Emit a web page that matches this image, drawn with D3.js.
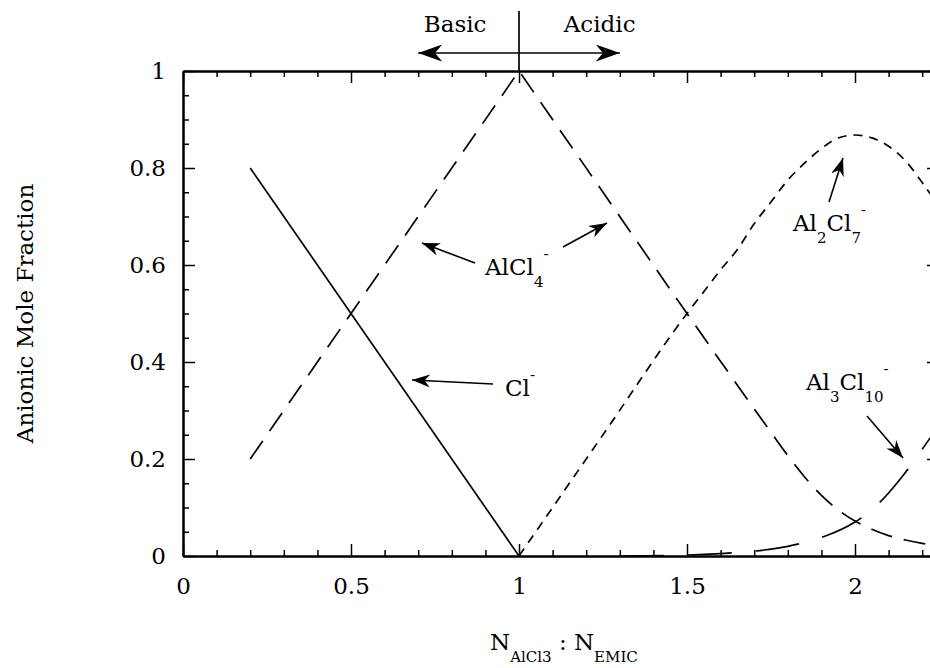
<!DOCTYPE html>
<html>
<head>
<meta charset="utf-8">
<script src="https://cdn.jsdelivr.net/npm/d3@7"></script>
<style>
  body { margin: 0; background: #fff; }
  svg { display: block; }
  text { font-family: "DejaVu Serif", serif; fill: #000; }
</style>
</head>
<body>
<svg id="canvas" width="930" height="668"></svg>
<script>
window.addEventListener('DOMContentLoaded', () => {

// values
const clX = [0.2, 1.0]
const clY = [0.8, 0.0]

const alcl4UpX = [0.2, 1.0]
const alcl4UpY = [0.2, 1.0]
const alcl4DownX = [1.0, 1.25, 1.5, 1.75, 1.8, 1.85, 1.9, 1.95, 2.0, 2.05, 2.1, 2.15, 2.2, 2.25]
const alcl4DownY = [1.0, 0.75, 0.5, 0.255, 0.207, 0.163, 0.125, 0.095, 0.072, 0.055, 0.042, 0.033, 0.026, 0.021]

const al2cl7X = [1.0, 1.25, 1.5, 1.55, 1.6, 1.65, 1.7, 1.75, 1.8, 1.85, 1.9, 1.95, 2.0, 2.05, 2.1, 2.15, 2.2, 2.25]
const al2cl7Y = [0.0, 0.25, 0.5, 0.545, 0.59, 0.632, 0.685, 0.73, 0.775, 0.81, 0.84, 0.862, 0.868, 0.862, 0.845, 0.815, 0.77, 0.72]

const al3cl10X = [1.3, 1.5, 1.6, 1.7, 1.8, 1.9, 2.0, 2.05, 2.1, 2.15, 2.2, 2.25]
const al3cl10Y = [0.0, 0.002, 0.005, 0.01, 0.02, 0.038, 0.07, 0.095, 0.13, 0.172, 0.22, 0.27]

const xMajor = [0, 0.5, 1, 1.5, 2]
const yMajor = [0, 0.2, 0.4, 0.6, 0.8, 1]

const FS = 23
const FS_SMALL = 15

let svg = d3.select('#canvas')

let x = d3.scaleLinear().domain([0, 2.25]).range([183, 939])
let y = d3.scaleLinear().domain([0, 1]).range([556, 71])

let xMinor = d3.range(0, 2.26, 0.1).map(v => +v.toFixed(2)).filter(v => !xMajor.includes(v))
let yMinor = d3.range(0, 1.001, 0.05).map(v => +v.toFixed(2)).filter(v => !yMajor.includes(v))

let defs = svg.append('defs')
let addArrow = (id, len, wid) => {
  defs.append('marker')
    .attr('id', id)
    .attr('markerUnits', 'userSpaceOnUse')
    .attr('viewBox', `${-len} ${-wid / 2} ${len} ${wid}`)
    .attr('refX', 0).attr('refY', 0)
    .attr('markerWidth', len).attr('markerHeight', wid)
    .attr('orient', 'auto-start-reverse')
    .append('path')
    .attr('d', `M0,0 L${-len},${-wid / 2} L${-len * 0.7},0 L${-len},${wid / 2} Z`)
    .attr('fill', '#000')
}
addArrow('bigArrow', 24, 17)
addArrow('arrow', 18, 13)

// axes, ticks pointing inward
let axisG = svg.append('g').attr('class', 'axes')
let fmt = d => d === 0 ? '0' : d3.format('~g')(d)

axisG.append('g').attr('transform', `translate(0,${y(0)})`)
  .call(d3.axisBottom(x).tickValues(xMajor).tickFormat(fmt).tickSize(-12).tickSizeOuter(0).tickPadding(22))
axisG.append('g').attr('transform', `translate(0,${y(0)})`)
  .call(d3.axisBottom(x).tickValues(xMinor).tickFormat('').tickSize(-6).tickSizeOuter(0))
axisG.append('g').attr('transform', `translate(0,${y(1)})`)
  .call(d3.axisTop(x).tickValues(xMajor).tickFormat('').tickSize(-12).tickSizeOuter(0))
axisG.append('g').attr('transform', `translate(0,${y(1)})`)
  .call(d3.axisTop(x).tickValues(xMinor).tickFormat('').tickSize(-6).tickSizeOuter(0))

axisG.append('g').attr('transform', `translate(${x(0)},0)`)
  .call(d3.axisLeft(y).tickValues(yMajor).tickFormat(fmt).tickSize(-12).tickSizeOuter(0).tickPadding(17))
axisG.append('g').attr('transform', `translate(${x(0)},0)`)
  .call(d3.axisLeft(y).tickValues(yMinor).tickFormat('').tickSize(-6).tickSizeOuter(0))
axisG.append('g').attr('transform', `translate(${x(2.25)},0)`)
  .call(d3.axisRight(y).tickValues(yMajor).tickFormat('').tickSize(-12).tickSizeOuter(0))
axisG.append('g').attr('transform', `translate(${x(2.25)},0)`)
  .call(d3.axisRight(y).tickValues(yMinor).tickFormat('').tickSize(-6).tickSizeOuter(0))

axisG.selectAll('path.domain').attr('stroke', '#000').attr('stroke-width', 2)
axisG.selectAll('.tick line').attr('stroke', '#000').attr('stroke-width', 1.5)
axisG.selectAll('.tick text')
  .attr('font-family', '"DejaVu Serif", serif')
  .attr('font-size', FS)
  .attr('fill', '#000')

// curves
let pts = (xs, ys) => xs.map((v, i) => [v, ys[i]])
let lineLin = d3.line().x(d => x(d[0])).y(d => y(d[1]))
let lineSmooth = d3.line().x(d => x(d[0])).y(d => y(d[1])).curve(d3.curveMonotoneX)

// AlCl4- : straight rise, smooth fall, joined into one path so the dashes run on
let alcl4Path = lineLin(pts(alcl4UpX, alcl4UpY)) +
  lineSmooth(pts(alcl4DownX, alcl4DownY)).replace(/^M[^A-Za-z]*/, '')

let series = [
  { d: lineLin(pts(clX, clY)), dash: null },
  { d: alcl4Path, dash: '22,12' },
  { d: lineSmooth(pts(al2cl7X, al2cl7Y)), dash: '9,7' },
  { d: lineSmooth(pts(al3cl10X, al3cl10Y)), dash: '44,24' }
]

svg.append('g').selectAll('path')
  .data(series)
  .enter().append('path')
  .attr('d', d => d.d)
  .attr('fill', 'none')
  .attr('stroke', '#000')
  .attr('stroke-width', 1.7)
  .attr('stroke-dasharray', d => d.dash)

// basic / acidic marker at the top
let top = svg.append('g')
top.append('line')
  .attr('x1', x(1)).attr('x2', x(1)).attr('y1', 11).attr('y2', y(1))
  .attr('stroke', '#000').attr('stroke-width', 1.7)
top.append('line')
  .attr('x1', x(0.7)).attr('x2', x(1.3)).attr('y1', 53).attr('y2', 53)
  .attr('stroke', '#000').attr('stroke-width', 1.5)
  .attr('marker-start', 'url(#bigArrow)').attr('marker-end', 'url(#bigArrow)')
top.append('text').attr('x', x(0.81)).attr('y', 32).attr('text-anchor', 'middle')
  .attr('font-size', FS).text('Basic')
top.append('text').attr('x', x(1.24)).attr('y', 32).attr('text-anchor', 'middle')
  .attr('font-size', FS).text('Acidic')

// species labels with pointer arrows
let arrows = [
  [475, 263, 422, 243],
  [563, 247, 607, 223],
  [493, 384, 412, 380],
  [829, 202, 843, 158],
  [867, 416, 903, 458]
]
svg.append('g').selectAll('line')
  .data(arrows)
  .enter().append('line')
  .attr('x1', d => d[0]).attr('y1', d => d[1])
  .attr('x2', d => d[2]).attr('y2', d => d[3])
  .attr('stroke', '#000').attr('stroke-width', 1.6)
  .attr('marker-end', 'url(#arrow)')

// parts: [text, kind] where kind = n (normal), sub, sup
let label = (x0, y0, parts) => {
  let t = svg.append('text').attr('x', x0).attr('y', y0).attr('font-size', FS)
  let shift = 0
  parts.forEach(([s, k]) => {
    let target = k === 'sub' ? 12 : k === 'sup' ? -16 : 0
    t.append('tspan')
      .attr('dy', target - shift)
      .attr('font-size', k === 'n' ? FS : FS_SMALL)
      .text(s)
    shift = target
  })
}
label(485, 275, [['AlCl', 'n'], ['4', 'sub'], ['-', 'sup']])
label(505, 396, [['Cl', 'n'], ['-', 'sup']])
label(793, 231, [['Al', 'n'], ['2', 'sub'], ['Cl', 'n'], ['7', 'sub'], ['-', 'sup']])
label(806, 390, [['Al', 'n'], ['3', 'sub'], ['Cl', 'n'], ['10', 'sub'], ['-', 'sup']])

// axis titles
svg.append('text')
  .attr('transform', `translate(33,${y(0.5)}) rotate(-90)`)
  .attr('text-anchor', 'middle')
  .attr('font-size', FS)
  .text('Anionic Mole Fraction')

let xt = svg.append('text').attr('x', 490).attr('y', 650).attr('font-size', FS)
xt.append('tspan').text('N')
xt.append('tspan').attr('dy', 12).attr('font-size', FS_SMALL).text('AlCl3')
xt.append('tspan').attr('dy', -12).text(' : N')
xt.append('tspan').attr('dy', 12).attr('font-size', FS_SMALL).text('EMIC')

})
</script>
</body>
</html>
